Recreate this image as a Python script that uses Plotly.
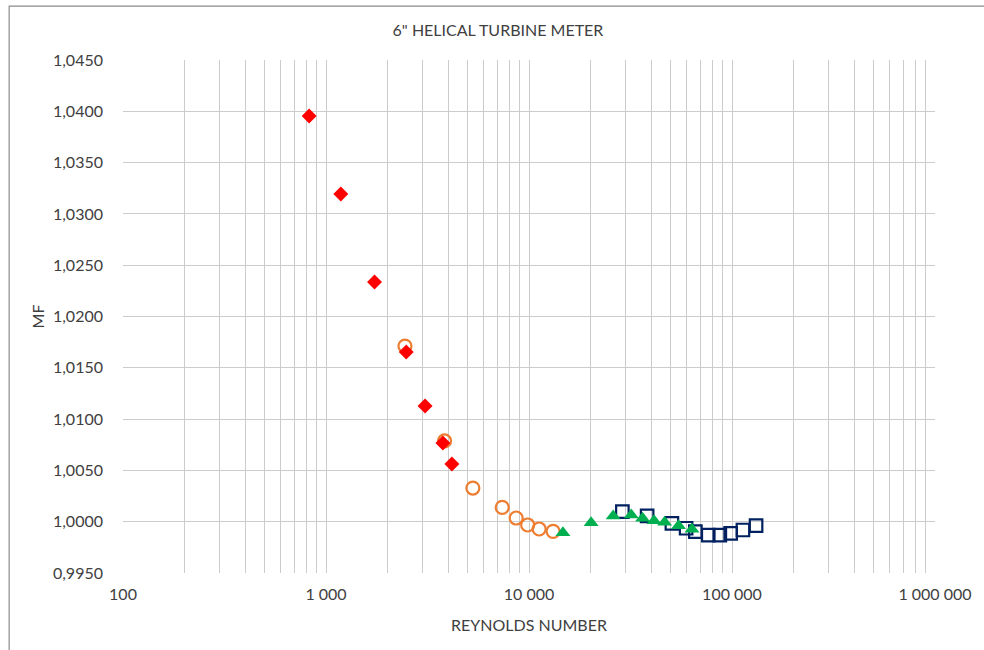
import plotly.graph_objects as go

# ---- data ----
red_re = [826, 1183, 1734, 2484, 3076, 3766, 4170]
red_mf = [1.03954, 1.03194, 1.02336, 1.01654, 1.01128, 1.00767, 1.00562]

orange_re = [2449, 3837, 5290, 7380, 8650, 9850, 11220, 13140]
orange_mf = [1.01712, 1.00787, 1.00328, 1.00140, 1.00036, 0.99968, 0.99929, 0.99906]

green_re = [14690, 20230, 25980, 31900, 36260, 41300, 46560, 54530, 63530]
green_mf = [0.99893, 0.99990, 1.00056, 1.00065, 1.00033, 1.00010, 0.99994, 0.99961, 0.99926]

blue_re = [28840, 38190, 50580, 59430, 66000, 76400, 87100, 98500, 113200, 131400]
blue_mf = [1.00098, 1.00056, 0.99984, 0.99936, 0.99903, 0.99870, 0.99870, 0.99887, 0.99919, 0.99961]

y_ticks = [0.995, 1.000, 1.005, 1.010, 1.015, 1.020, 1.025, 1.030, 1.035, 1.040, 1.045]
y_labels = ["0,9950", "1,0000", "1,0050", "1,0100", "1,0150", "1,0200",
            "1,0250", "1,0300", "1,0350", "1,0400", "1,0450"]
x_major = [100, 1000, 10000, 100000, 1000000]
x_major_labels = ["100", "1 000", "10 000", "100 000", "1 000 000"]

# grid ticks: every 1..9 within each decade
x_ticks = []
x_labels = []
for i, d in enumerate(x_major[:-1]):
    for k in range(1, 10):
        x_ticks.append(d * k)
        x_labels.append(x_major_labels[i] if k == 1 else "")
x_ticks.append(x_major[-1])
x_labels.append(x_major_labels[-1])

FONT = "Lato"
GRAY = "#404040"
GRID = "#CCCCCC"
FS = 16

fig = go.Figure()
fig.add_trace(go.Scatter(x=orange_re, y=orange_mf, mode="markers", name="orange",
                         marker=dict(symbol="circle-open", size=13, color="#ED7D31",
                                     line=dict(width=2.2, color="#ED7D31"))))
fig.add_trace(go.Scatter(x=blue_re, y=blue_mf, mode="markers", name="blue",
                         marker=dict(symbol="square-open", size=12.5, color="#002060",
                                     line=dict(width=2.2, color="#002060"))))
fig.add_trace(go.Scatter(x=red_re, y=red_mf, mode="markers", name="red",
                         marker=dict(symbol="diamond", size=11.5, color="#FF0000",
                                     line=dict(width=0))))
fig.add_trace(go.Scatter(x=green_re, y=green_mf, mode="markers", name="green",
                         marker=dict(symbol="triangle-up", size=13, color="#00B050",
                                     line=dict(width=0))))

fig.update_layout(
    width=984, height=650,
    margin=dict(l=123, r=41, t=60, b=77),
    paper_bgcolor="white", plot_bgcolor="white",
    showlegend=False,
    font=dict(family=FONT, size=FS, color=GRAY),
    title=dict(text='6" HELICAL TURBINE METER', x=0.4618, xref="paper", xanchor="center",
               y=1 - 30 / 650, yref="container", yanchor="middle",
               font=dict(family=FONT, size=FS, color=GRAY)),
    xaxis=dict(type="log", range=[2, 6], tickmode="array", tickvals=x_ticks, ticktext=x_labels,
               showgrid=True, gridcolor=GRID, gridwidth=1, zeroline=False, showline=False,
               ticks="", ticklabelstandoff=10, tickfont=dict(family=FONT, size=FS, color=GRAY),
               title=dict(text="REYNOLDS NUMBER", standoff=17,
                          font=dict(family=FONT, size=FS, color=GRAY))),
    yaxis=dict(range=[0.995, 1.045], tickmode="array", tickvals=y_ticks, ticktext=y_labels,
               showgrid=True, gridcolor=GRID, gridwidth=1, zeroline=False, showline=False,
               ticks="", ticklabelstandoff=19, tickfont=dict(family=FONT, size=FS, color=GRAY),
               title=dict(text="MF", standoff=4,
                          font=dict(family=FONT, size=FS, color=GRAY))),
    shapes=[dict(type="rect", xref="paper", yref="paper",
                 x0=-0.1402, x1=1.2, y0=-0.3, y1=1.105,
                 line=dict(color="#8C8C8C", width=1.2), fillcolor="rgba(0,0,0,0)",
                 layer="below")],
)

fig.write_html("out.html", config={"displayModeBar": False},
               post_script="document.body.style.margin='0';document.body.style.overflow='hidden';")
